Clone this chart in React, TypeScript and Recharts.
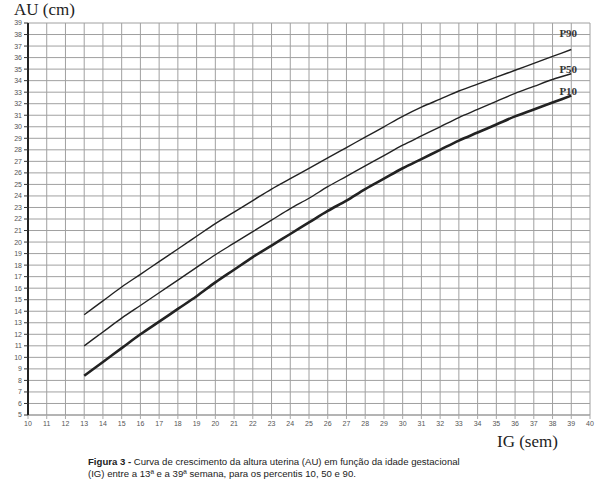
import React from 'react';
import { LineChart, Line, XAxis, YAxis, CartesianGrid } from 'recharts';

// semanas de gestação (IG) e percentis da altura uterina (cm)
const weeks = [13, 14, 15, 16, 17, 18, 19, 20, 21, 22, 23, 24, 25, 26, 27, 28, 29, 30, 31, 32, 33, 34, 35, 36, 37, 38, 39];
const p10 = [8.4, 9.6, 10.8, 12.0, 13.1, 14.2, 15.3, 16.5, 17.6, 18.7, 19.7, 20.7, 21.7, 22.7, 23.6, 24.6, 25.5, 26.4, 27.2, 28.0, 28.8, 29.5, 30.2, 30.9, 31.5, 32.1, 32.7];
const p50 = [11.0, 12.2, 13.4, 14.5, 15.6, 16.7, 17.8, 18.9, 19.9, 20.9, 21.9, 22.9, 23.8, 24.8, 25.7, 26.6, 27.5, 28.4, 29.2, 30.0, 30.8, 31.5, 32.2, 32.9, 33.5, 34.1, 34.6];
const p90 = [13.7, 14.9, 16.1, 17.2, 18.3, 19.4, 20.5, 21.6, 22.6, 23.6, 24.6, 25.5, 26.4, 27.3, 28.2, 29.1, 30.0, 30.9, 31.7, 32.4, 33.1, 33.7, 34.3, 34.9, 35.5, 36.1, 36.7];

const xTicks = [10, 11, 12, 13, 14, 15, 16, 17, 18, 19, 20, 21, 22, 23, 24, 25, 26, 27, 28, 29, 30, 31, 32, 33, 34, 35, 36, 37, 38, 39, 40];
const yTicks = [5, 6, 7, 8, 9, 10, 11, 12, 13, 14, 15, 16, 17, 18, 19, 20, 21, 22, 23, 24, 25, 26, 27, 28, 29, 30, 31, 32, 33, 34, 35, 36, 37, 38, 39];

const data = weeks.map((w, i) => ({ week: w, p10: p10[i], p50: p50[i], p90: p90[i] }));

const endLabel = (name: string, dy: number) => (props: any) => {
  if (props.index !== weeks.length - 1) return <g />;
  return (
    <text
      x={props.x - 3}
      y={props.y + dy}
      textAnchor="middle"
      fontFamily="'Liberation Serif', serif"
      fontWeight="bold"
      fontSize={11}
      fill="#333"
    >
      {name}
    </text>
  );
};

const App: React.FC = () => {
  return (
    <div style={{ position: 'fixed', top: 0, left: 0, width: 601, height: 485, background: '#fff' }}>
      <LineChart
        width={601}
        height={485}
        data={data}
        margin={{ top: 23, right: 11, left: 8, bottom: 50 }}
        style={{ fontFamily: "'Liberation Sans', Arial, sans-serif" }}
      >
        <CartesianGrid stroke="#a0a0a0" strokeWidth={1} />
        <XAxis
          type="number"
          dataKey="week"
          domain={[10, 40]}
          ticks={xTicks}
          interval={0}
          height={20}
          tickSize={4}
          tick={{ fontSize: 7, fill: '#555' }}
          tickLine={{ stroke: '#aaa' }}
          axisLine={{ stroke: '#999' }}
        />
        <YAxis
          type="number"
          domain={[5, 39]}
          ticks={yTicks}
          interval={0}
          width={20}
          tickSize={4}
          tick={{ fontSize: 7, fill: '#555' }}
          tickLine={{ stroke: '#333' }}
          axisLine={{ stroke: '#222', strokeWidth: 2 }}
        />
        <Line type="monotone" dataKey="p90" stroke="#222" strokeWidth={1.4} dot={false} isAnimationActive={false} label={endLabel('P90', -13)} />
        <Line type="monotone" dataKey="p50" stroke="#222" strokeWidth={1.4} dot={false} isAnimationActive={false} label={endLabel('P50', -1)} />
        <Line type="monotone" dataKey="p10" stroke="#222" strokeWidth={2.6} dot={false} isAnimationActive={false} label={endLabel('P10', -1)} />
      </LineChart>
      <svg width={601} height={485} style={{ position: 'absolute', top: 0, left: 0, pointerEvents: 'none' }}>
        <text x={14} y={15} fontFamily="'Liberation Serif', serif" fontSize={17} fill="#222">AU (cm)</text>
        <text x={497} y={447} fontFamily="'Liberation Serif', serif" fontSize={17} fill="#222">IG (sem)</text>
        <text x={88} y={465} fontFamily="'Liberation Sans', Arial, sans-serif" fontSize={9.6} fill="#222">
          <tspan fontWeight="bold">Figura 3 -</tspan> Curva de crescimento da altura uterina (AU) em função da idade gestacional
        </text>
        <text x={88} y={477} fontFamily="'Liberation Sans', Arial, sans-serif" fontSize={9.6} fill="#222">
          (IG) entre a 13ª e a 39ª semana, para os percentis 10, 50 e 90.
        </text>
      </svg>
    </div>
  );
};

export default App;
